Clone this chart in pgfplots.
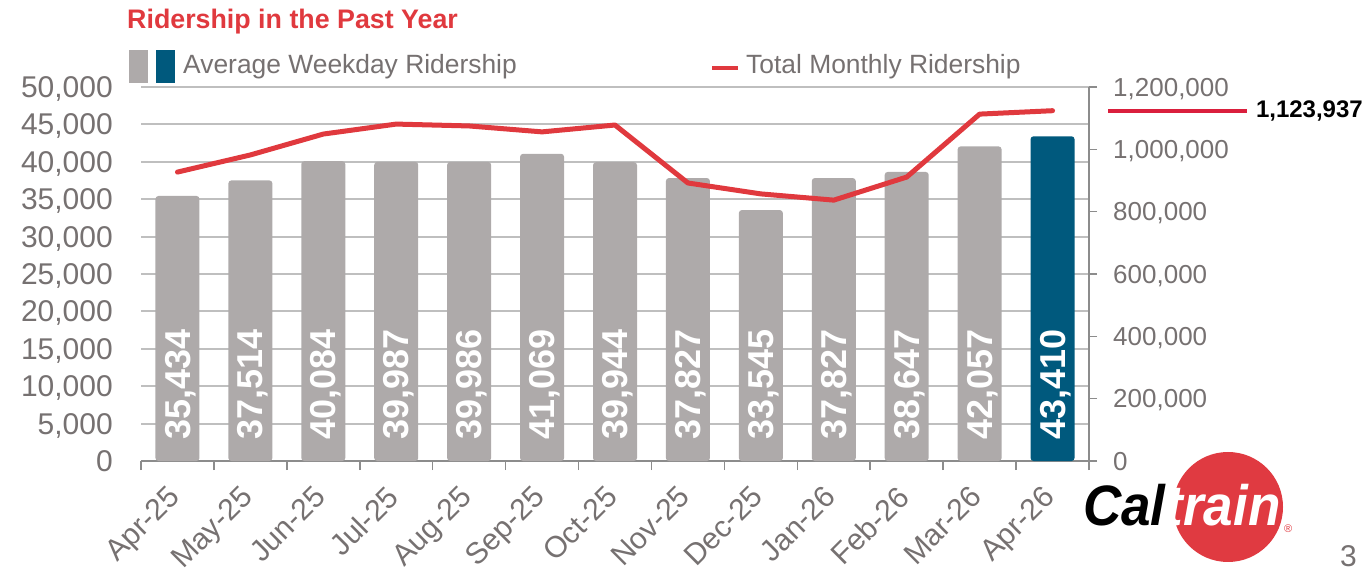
\documentclass[border=0pt]{standalone}
\usepackage{pgfplots}
\pgfplotsset{compat=1.18}
\usepackage{fontspec}
\setmainfont{Liberation Sans}
\definecolor{barGray}{HTML}{AEAAAA}
\definecolor{barBlue}{HTML}{00597D}
\definecolor{lineRed}{HTML}{E0393E}
\definecolor{annRed}{HTML}{DA1F3D}
\definecolor{txtGray}{HTML}{767171}
\definecolor{gridGray}{HTML}{BFBFBF}
\definecolor{axGray}{HTML}{8C8C8C}
\definecolor{logoRed}{HTML}{E03A41}
\newcommand{\fs}[1]{\fontsize{#1}{#1}\selectfont}
\begin{document}
\begin{tikzpicture}[x=1pt,y=1pt]
\useasboundingbox (0,0) rectangle (1368,570);
% title and legend
\node[anchor=base west, inner sep=0pt, text=lineRed] at (127,541) {\fs{26.8}\bfseries Ridership in the Past Year};
\fill[barGray] (129,487) rectangle (148,520);
\fill[barBlue] (156,487) rectangle (175,520);
\node[anchor=base west, inner sep=0pt, text=txtGray] at (183,496) {\fs{26.4}Average Weekday Ridership};
\draw[lineRed, line width=4.5pt] (712,502) -- (738,502);
\node[anchor=base west, inner sep=0pt, text=txtGray] at (746,496) {\fs{26.4}Total Monthly Ridership};
% bars (left axis)
\begin{axis}[
  at={(141pt,109pt)}, anchor=south west,
  scale only axis, width=948pt, height=374pt,
  xmin=-0.5, xmax=12.5, ymin=0, ymax=50000,
  axis x line*=bottom, axis y line*=left,
  y axis line style={draw=none},
  x axis line style={axGray, line width=2pt, -},
  xtick={0,...,12},
  xticklabels={Apr-25,May-25,Jun-25,Jul-25,Aug-25,Sep-25,Oct-25,Nov-25,Dec-25,Jan-26,Feb-26,Mar-26,Apr-26},
  major tick length=0pt,
  minor xtick={-0.5,0.5,...,12.5},
  minor x tick style={axGray, line width=1.5pt},
  minor tick length=9pt,
  tick align=outside,
  ytick={0,5000,...,50000},
  major y tick style={draw=none},
  ymajorgrids, grid style={gridGray, line width=2pt},
  scaled y ticks=false,
  xticklabel style={inner sep=0pt, xshift=-11pt, yshift=-23pt, rotate=45, anchor=north east, text=txtGray, font=\fs{30}},
  yticklabel style={inner sep=0pt, xshift=-28pt, anchor=east, text=txtGray, font=\fs{30}, text depth=0pt},
  /pgf/number format/.cd, fixed, 1000 sep={,}, assume math mode=true,
  /pgfplots/.cd,
  clip=false,
]
\addplot[ybar, bar width=44pt, bar shift=0pt, fill=barGray, draw=none, rounded corners=3pt] coordinates {
(0,35434) (1,37514) (2,40084) (3,39987) (4,39986) (5,41069) (6,39944) (7,37827) (8,33545) (9,37827) (10,38647) (11,42057)};
\addplot[ybar, bar width=44pt, bar shift=0pt, fill=barBlue, draw=none, rounded corners=3pt] coordinates {(12,43410)};
\addplot[draw=none, mark=none, point meta=explicit,
  nodes near coords={\pgfmathprintnumber[fixed,precision=0,1000 sep={,}]{\pgfplotspointmeta}},
  every node near coord/.append style={rotate=90, anchor=west, inner sep=0pt, text=white, font=\fs{36}\bfseries, text depth=0pt}]
coordinates {
(0,2800) [35434] (1,2800) [37514] (2,2800) [40084] (3,2800) [39987] (4,2800) [39986] (5,2800) [41069] (6,2800) [39944]
(7,2800) [37827] (8,2800) [33545] (9,2800) [37827] (10,2800) [38647] (11,2800) [42057] (12,2800) [43410]};
\end{axis}
% line (right axis)
\begin{axis}[
  at={(141pt,109pt)}, anchor=south west,
  scale only axis, width=948pt, height=374pt,
  xmin=-0.5, xmax=12.5, ymin=0, ymax=1200000,
  axis x line=none, axis y line*=right,
  y axis line style={axGray, line width=1.5pt, -},
  ytick={0,200000,...,1200000},
  tick align=outside, major tick length=8pt,
  ytick style={axGray, line width=1.5pt},
  scaled y ticks=false,
  yticklabel style={inner sep=0pt, anchor=west, xshift=16pt, text=txtGray, font=\fs{26}, text depth=0pt},
  /pgf/number format/.cd, fixed, 1000 sep={,}, assume math mode=true,
  /pgfplots/.cd,
  clip=false,
]
\addplot[lineRed, line width=5pt, line join=round, line cap=round, mark=none] coordinates {
(0,927000) (1,982000) (2,1049000) (3,1081000) (4,1075000) (5,1056000) (6,1078000)
(7,892000) (8,857000) (9,837000) (10,911000) (11,1113000) (12,1123937)};
\draw[annRed, line width=4pt] ([xshift=19pt]axis cs:12.5,1123937) -- ++(139pt,0pt)
  node[right, inner sep=0pt, xshift=7pt, text=black, font=\fs{24}\bfseries] {1,123,937};
\end{axis}
% logo and page number
\fill[logoRed] (1228,63) circle (55pt);
\node[anchor=base west, inner sep=0pt, xscale=0.93] at (1083,44) {\fs{57}\bfseries\itshape Cal\textcolor{white}{train}};
\node[anchor=base west, inner sep=0pt, text=logoRed] at (1284,37) {\fs{11}®};
\node[anchor=base west, inner sep=0pt, text=txtGray] at (1340,3) {\fs{30}3};
\end{tikzpicture}
\end{document}
